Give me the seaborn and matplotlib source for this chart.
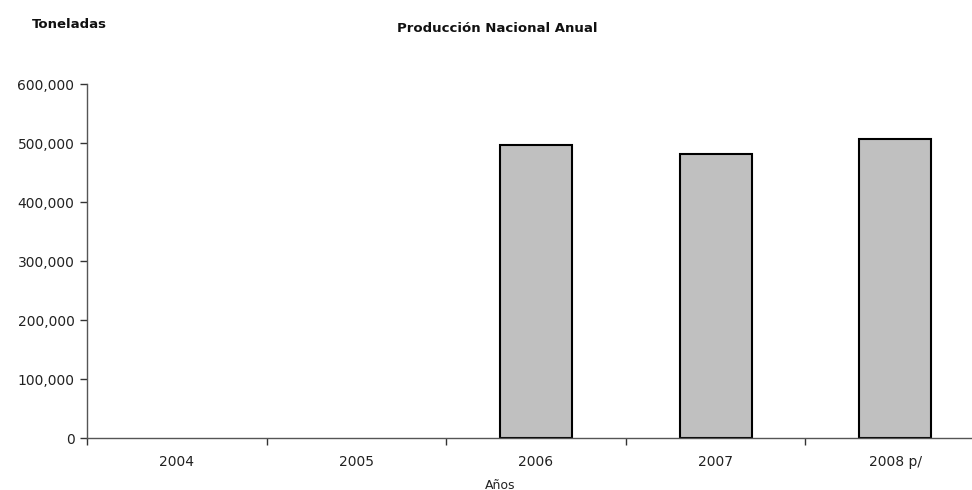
import numpy as np
import pandas as pd
import matplotlib
matplotlib.use("Agg")
import matplotlib.pyplot as plt
import seaborn as sns
from matplotlib.ticker import FuncFormatter, FixedLocator

# data
years = ["2004", "2005", "2006", "2007", "2008 p/"]
toneladas = [np.nan, np.nan, 496600, 481000, 506000]

df = pd.DataFrame({"Año": years, "Toneladas": toneladas}).dropna()

sns.set_style("white")
plt.rcParams["font.family"] = ["DejaVu Sans"]

fig = plt.figure(figsize=(9.72, 4.90), dpi=100)
ax = fig.add_axes([87 / 972, 52 / 490, (985 - 87) / 972, (438 - 84) / 490])

sns.barplot(data=df, x="Año", y="Toneladas", order=years, color="#C0C0C0",
            edgecolor="black", linewidth=1.5, width=0.4, saturation=1, ax=ax)

ax.set_ylim(0, 600000)
ax.set_xlim(-0.5, len(years) - 0.5)
ax.set_yticks(np.arange(0, 600001, 100000))
ax.yaxis.set_major_formatter(FuncFormatter(lambda v, p: f"{int(v):,}"))

# ticks between categories, labels at centres
ax.xaxis.set_minor_locator(FixedLocator(np.arange(-0.5, len(years), 1.0)))
ax.tick_params(axis="x", which="major", bottom=True, length=0, pad=12,
               labelsize=10, colors="#222222")
ax.tick_params(axis="x", which="minor", bottom=True, length=5, width=1,
               color="#333333", direction="out")
ax.tick_params(axis="y", which="major", left=True, length=5, width=1,
               color="#333333", direction="out", labelsize=10,
               labelcolor="#222222", pad=4)

for side in ["top", "right"]:
    ax.spines[side].set_visible(False)
for side in ["left", "bottom"]:
    ax.spines[side].set_color("#555555")
    ax.spines[side].set_linewidth(1)

ax.set_ylabel("")
ax.set_xlabel("Años", fontsize=9, color="#222222")
ax.xaxis.set_label_coords((500 - 87) / (985 - 87), -0.115)

fig.text(32 / 972, 1 - 24 / 490, "Toneladas", fontsize=9.5, fontweight="bold",
         va="center", ha="left", color="#111111")
fig.text(497 / 972, 1 - 28 / 490, "Producción Nacional Anual", fontsize=9.5,
         fontweight="bold", va="center", ha="center", color="#111111")

fig.savefig("out.png", dpi=100, facecolor="white")
